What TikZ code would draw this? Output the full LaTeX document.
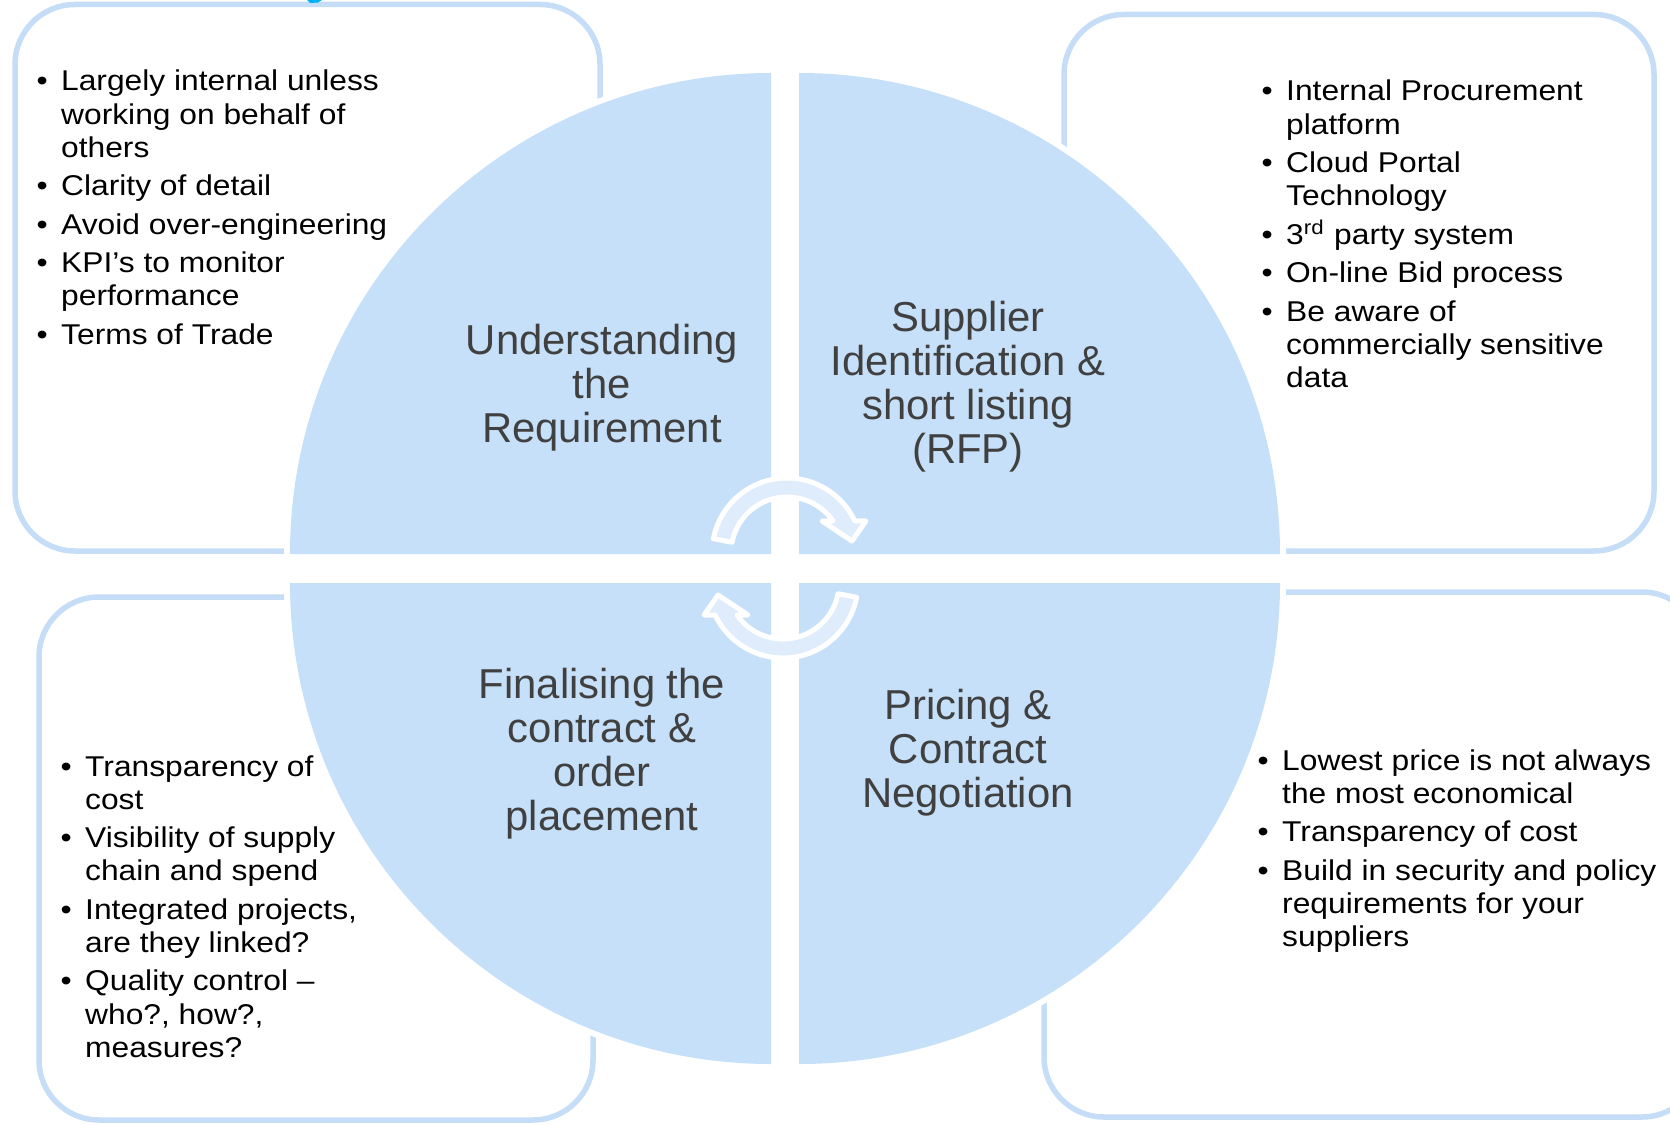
\documentclass[tikz,border=0pt]{standalone}
\usepackage{fontspec}
\setmainfont{Liberation Sans}
\newfontfamily\listfont{Liberation Sans}[FakeStretch=1.11]
\definecolor{quadblue}{RGB}{198,224,249}
\definecolor{boxblue}{RGB}{197,221,246}
\definecolor{arrowblue}{RGB}{222,236,252}
\definecolor{labelgray}{RGB}{64,64,64}
\definecolor{titleblue}{RGB}{0,176,240}
\newcommand{\bul}[1]{\par\hangindent=6.97pt\hangafter=1\noindent\makebox[6.97pt][l]{\textbullet}#1}
\newcommand{\bullist}[1]{\parbox[t]{50mm}{\listfont\fontsize{8.14}{9.47}\selectfont\setlength{\parskip}{1.45pt}#1}}
\newcommand{\quadlabel}[1]{\parbox[t]{36mm}{\centering\fontsize{11.9}{12.52}\selectfont #1}}
\tikzset{cycarrow/.pic={
\path[cyc] (-169:75) arc[start angle=-169, end angle=-25.3, radius=75] -- (79,-32) -- (65,-12) -- (35,-32) -- (46,-32) arc[start angle=-34.8, end angle=-169, radius=56] -- cycle;
}}
\begin{document}
\begin{tikzpicture}[x=0.1mm, y=-0.1mm,
  boxline/.style={draw=boxblue, line width=0.55mm, rounded corners=6mm},
  quad/.style={fill=quadblue, preaction={draw=white, line width=1.2mm}},
  cyc/.style={fill=arrowblue, draw=white, line width=0.5mm, line join=round},
  lbl/.style={anchor=base, inner sep=0pt, text=labelgray},
  lst/.style={anchor=base west, inner sep=0pt}]
\useasboundingbox (0,0) rectangle (1670,1125);
\clip (0,0) rectangle (1670,1125);
\draw[boxline] (15,4.5) rectangle (600,551);
\draw[boxline] (1064,14.5) rectangle (1654,551);
\draw[boxline] (39,597) rectangle (593,1120);
\draw[boxline] (1044,592) rectangle (1702,1117);
\fill[titleblue] (307,0) -- (322,0) -- (318,2.5) -- (310,3) -- cycle;
\path[quad] (771,554) -- ++(-481,0) arc[start angle=180, end angle=270, radius=481] -- cycle;
\path[quad] (799,554) -- ++(0,-481) arc[start angle=270, end angle=360, radius=481] -- cycle;
\path[quad] (799,583) -- ++(481,0) arc[start angle=0, end angle=90, radius=481] -- cycle;
\path[quad] (771,583) -- ++(0,481) arc[start angle=90, end angle=180, radius=481] -- cycle;
\node[lbl] (L_0_0) at (602,354) {\quadlabel{Understanding\\the\\Requirement}};
\node[lbl] (L_1_0) at (968,331) {\quadlabel{Supplier\\Identification \&\\short listing\\(RFP)}};
\node[lbl] (L_0_1) at (602,698) {\quadlabel{Finalising the\\contract \&\\order\\placement}};
\node[lbl] (L_1_1) at (968,719) {\quadlabel{Pricing \&\\Contract\\Negotiation}};
\pic at (787,553) {cycarrow};
\pic[rotate=180] at (783,583) {cycarrow};
\node[lst] (T_0_0) at (36,91) {\bullist{\bul{Largely internal unless\newline working on behalf of\newline others}\bul{Clarity of detail}\bul{Avoid over-engineering}\bul{KPI’s to monitor\newline performance}\bul{Terms of Trade}}};
\node[lst] (T_1_0) at (1261,101) {\bullist{\bul{Internal Procurement\newline platform}\bul{Cloud Portal\newline Technology}\bul{3\textsuperscript{rd} party system}\bul{On-line Bid process}\bul{Be aware of\newline commercially sensitive\newline data}}};
\node[lst] (T_0_1) at (60,776) {\bullist{\bul{Transparency of\newline cost}\bul{Visibility of supply\newline chain and spend}\bul{Integrated projects,\newline are they linked?}\bul{Quality control –\newline who?, how?,\newline measures?}}};
\node[lst] (T_1_1) at (1257,770) {\bullist{\bul{Lowest price is not always\newline the most economical}\bul{Transparency of cost}\bul{Build in security and policy\newline requirements for your\newline suppliers}}};
\end{tikzpicture}
\end{document}
